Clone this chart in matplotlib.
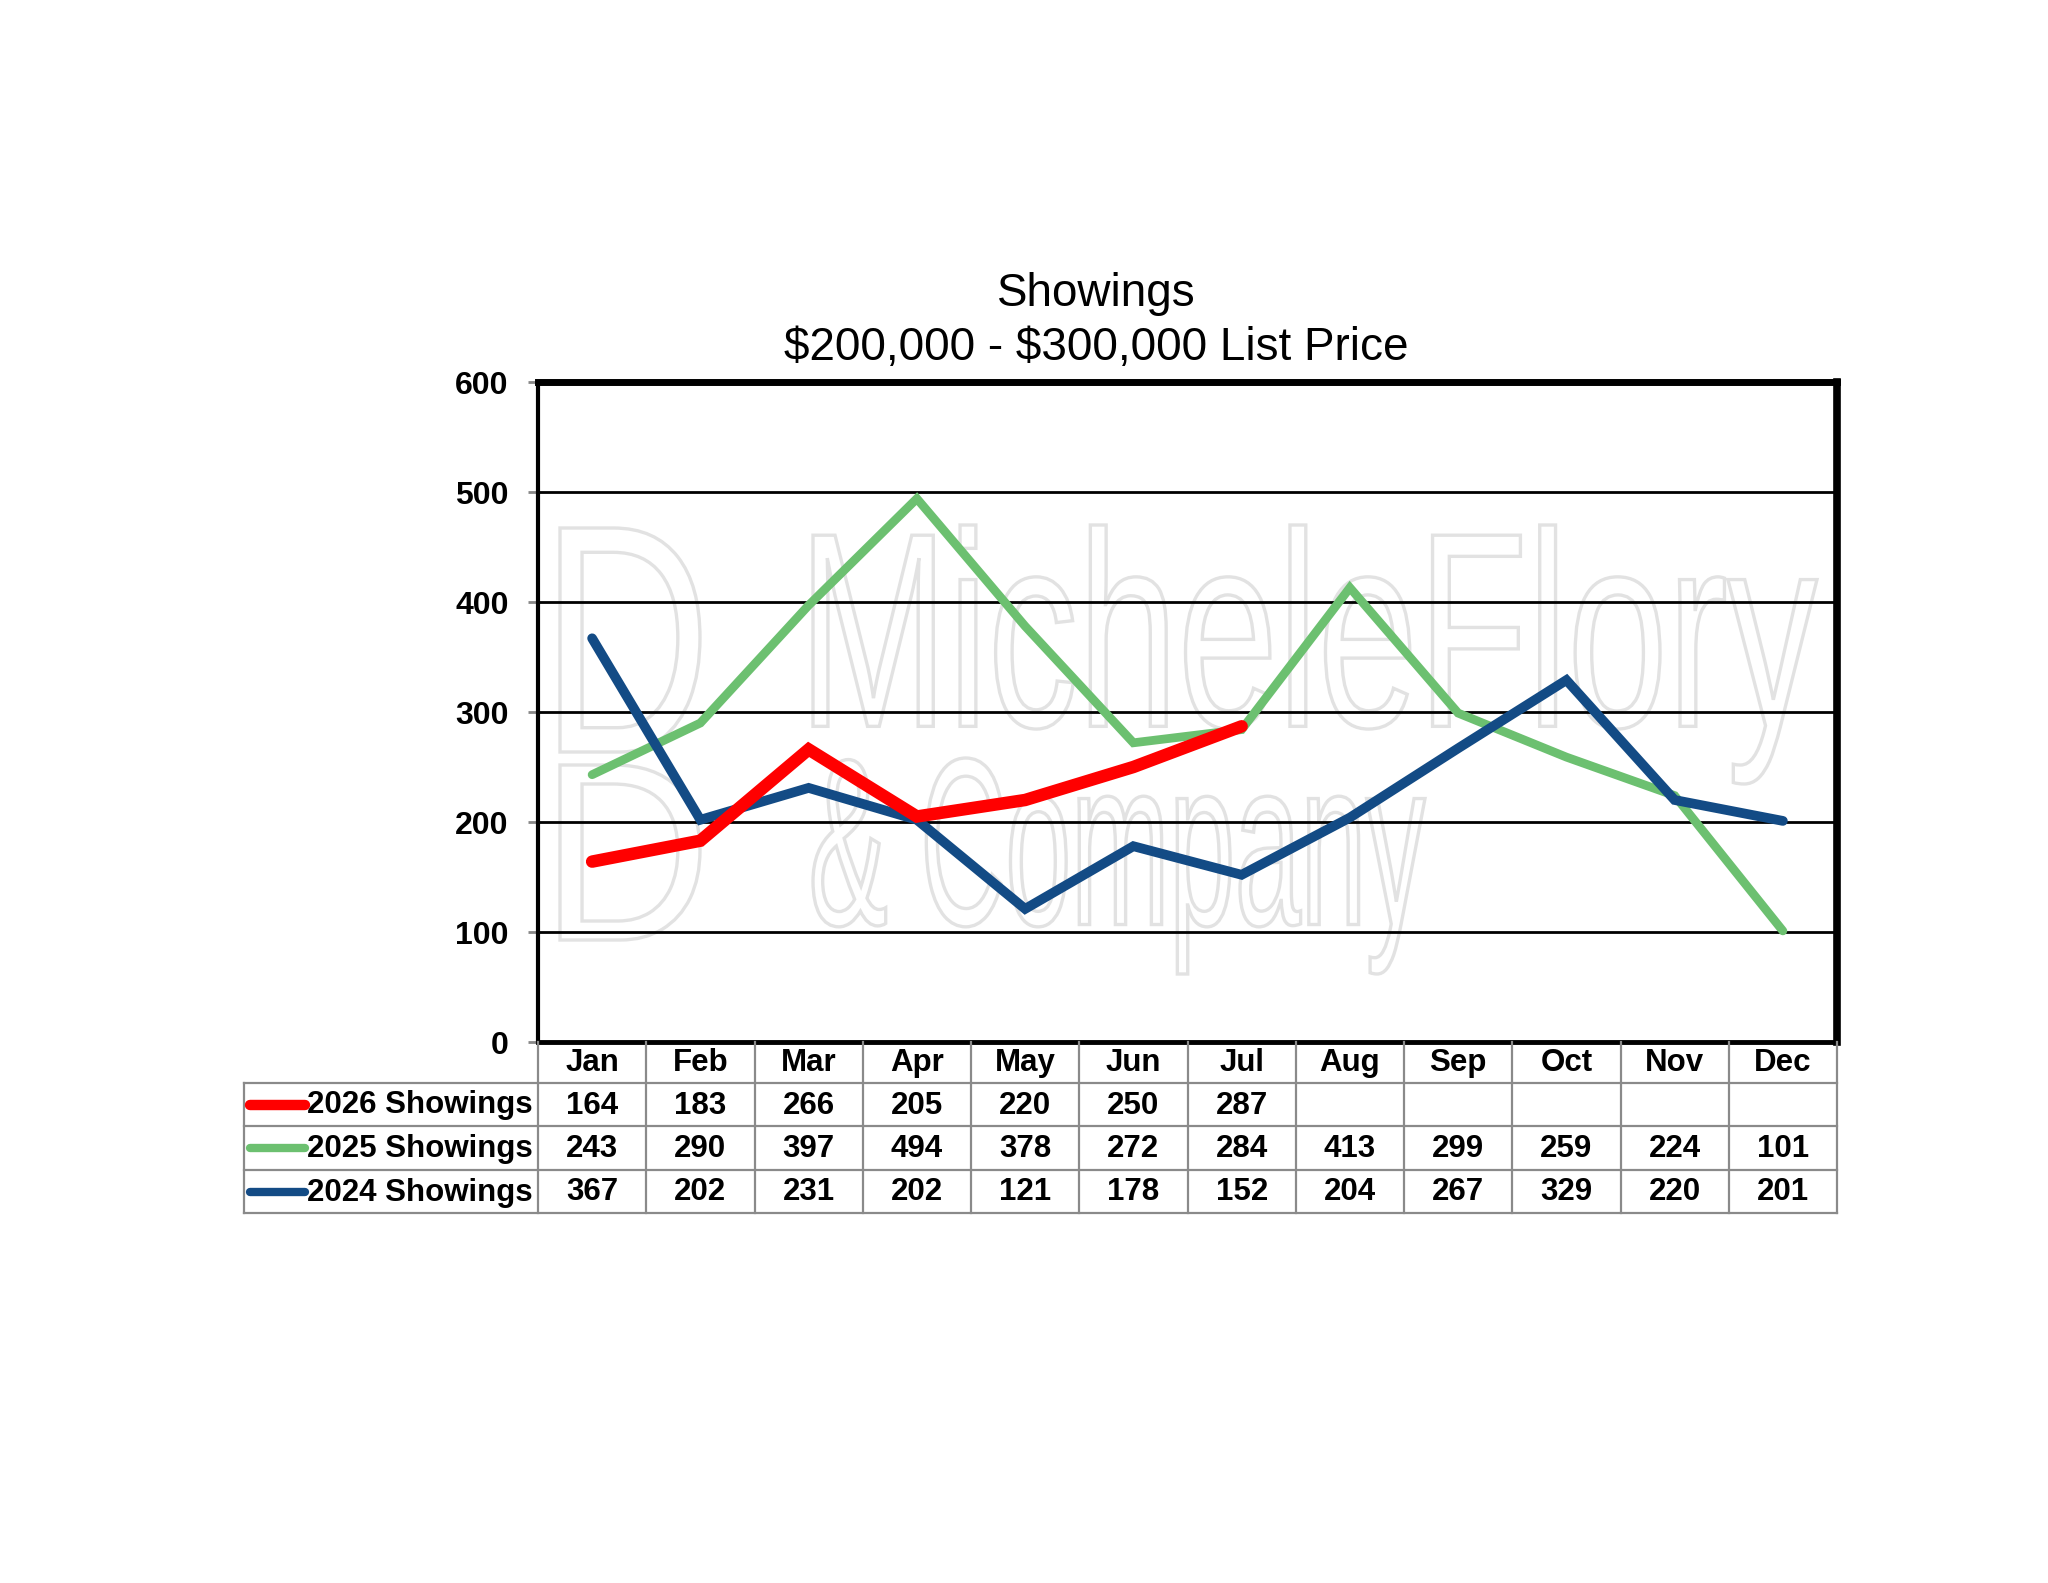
import matplotlib
matplotlib.use("Agg")
import matplotlib.pyplot as plt
from matplotlib.textpath import TextPath
from matplotlib.patches import PathPatch
from matplotlib.font_manager import FontProperties
from matplotlib.transforms import Affine2D

months = ["Jan", "Feb", "Mar", "Apr", "May", "Jun", "Jul", "Aug", "Sep", "Oct", "Nov", "Dec"]
s2026 = [164, 183, 266, 205, 220, 250, 287]
s2025 = [243, 290, 397, 494, 378, 272, 284, 413, 299, 259, 224, 101]
s2024 = [367, 202, 231, 202, 121, 178, 152, 204, 267, 329, 220, 201]
labels = ["2026 Showings", "2025 Showings", "2024 Showings"]
colors = ["#ff0000", "#6cc070", "#134b85"]
widths = [9.0, 6.3, 7.0]

plt.rcParams['font.family'] = ['Liberation Sans', 'DejaVu Sans']

W, H = 2048, 1583
fig = plt.figure(figsize=(W / 100, H / 100), dpi=100)
fig.patch.set_facecolor("white")

# main plot area (pixel positions)
L, R, T, B = 538, 1837, 382, 1042
ax = fig.add_axes([L / W, 1 - B / H, (R - L) / W, (B - T) / H])
ax.set_xlim(-0.5, 11.5)
ax.set_ylim(0, 600)
ax.set_yticks(range(0, 601, 100))
ax.set_xticks([])
for y in range(100, 600, 100):
    ax.axhline(y, color="black", lw=2.0, zorder=1)

ax.spines['top'].set_linewidth(5.0)
ax.spines['right'].set_linewidth(5.5)
ax.spines['bottom'].set_linewidth(3.5)
ax.spines['left'].set_linewidth(3.0)
for s in ax.spines.values():
    s.set_zorder(6)
ax.tick_params(axis='y', length=7, width=2, color="#888888", pad=14, labelsize=23)
for t in ax.get_yticklabels():
    t.set_fontweight("bold")

# watermark (outlined, light grey)
def outline_text(txt, x0, y0, x1, y1):
    tp = TextPath((0, 0), txt, size=1, prop=FontProperties(family="Liberation Sans"))
    bb = tp.get_extents()
    sx = (x1 - x0) / W / bb.width
    sy = (y1 - y0) / H / bb.height
    tr = Affine2D().translate(-bb.x0, -bb.y0).scale(sx, sy).translate(x0 / W, 1 - y1 / H)
    p = PathPatch(tr.transform_path(tp), transform=fig.transFigure, facecolor="white",
                  edgecolor="#e2e2e2", lw=2.4, zorder=0.5)
    ax.add_artist(p)

outline_text("MicheleFlory", 813, 525, 1817, 784)
outline_text("& Company", 813, 758, 1425, 974)
outline_text("D", 560, 528, 700, 752)
outline_text("D", 560, 765, 700, 940)

x = list(range(12))
series = [s2026, s2025, s2024]
zs = [5, 3, 4]
for vals, c, lw, z in zip(series, colors, widths, zs):
    ax.plot(x[:len(vals)], vals, color=c, lw=lw, solid_capstyle="round",
            solid_joinstyle="miter", zorder=z)

fig.text(1096 / W, 1 - 294 / H, "Showings", ha="center", va="center", fontsize=33)
fig.text(1096 / W, 1 - 348 / H, r"\$200,000 - \$300,000 List Price", ha="center",
         va="center", fontsize=33)

# data table under the plot
TL, TB = 244, 1213
colw = (R - L) / 12.0
xl = -0.5 - (L - TL) / colw
axt = fig.add_axes([TL / W, 1 - TB / H, (R - TL) / W, (TB - B) / H])
axt.set_xlim(xl, 11.5)
axt.set_ylim(TB - B, 0)
axt.axis("off")
rows = [0, 41, 84, 128, 171]
gc = "#8a8a8a"
glw = 1.6
for i in range(13):
    axt.plot([i - 0.5, i - 0.5], [0, 171], color=gc, lw=glw, clip_on=False)
axt.plot([xl, xl], [rows[1], 171], color=gc, lw=glw, clip_on=False)
for r in rows[1:]:
    axt.plot([xl, 11.5], [r, r], color=gc, lw=glw, clip_on=False)

for i, m in enumerate(months):
    axt.text(i, 21, m, ha="center", va="center", fontsize=22.5, fontweight="bold")
sw0 = xl + (250 - TL) / colw
sw1 = xl + (305 - TL) / colw
tx = xl + (307 - TL) / colw
for k, (vals, lab, c) in enumerate(zip(series, labels, colors)):
    yc = (rows[k + 1] + rows[k + 2]) / 2
    axt.plot([sw0, sw1], [yc, yc], color=c, lw=7.5 if k == 0 else 6.0,
             solid_capstyle="round", clip_on=False)
    axt.text(tx, yc + 1, lab, ha="left", va="center", fontsize=22.5, fontweight="bold")
    for i, v in enumerate(vals):
        axt.text(i, yc + 1, str(v), ha="center", va="center", fontsize=22.5,
                 fontweight="bold")

fig.savefig("out.png", dpi=100)
